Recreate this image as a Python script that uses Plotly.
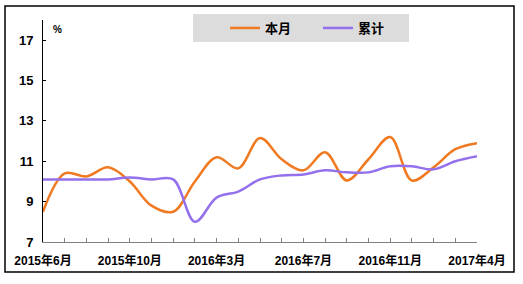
import plotly.graph_objects as go

months = ["2015年6月", "2015年7月", "2015年8月", "2015年9月", "2015年10月", "2015年11月",
          "2015年12月", "2016年2月", "2016年3月", "2016年4月", "2016年5月", "2016年6月",
          "2016年7月", "2016年8月", "2016年9月", "2016年10月", "2016年11月", "2016年12月",
          "2017年2月", "2017年3月", "2017年4月"]
shown_labels = ["2015年6月", "2015年10月", "2016年3月", "2016年7月", "2016年11月", "2017年4月"]
monthly = [8.5, 10.4, 10.25, 10.7, 10.0, 8.8, 8.5, 10.0, 11.2, 10.65, 12.15, 11.1,
           10.55, 11.45, 10.05, 11.1, 12.2, 10.05, 10.7, 11.6, 11.9]
cumulative = [10.1, 10.1, 10.1, 10.1, 10.2, 10.1, 10.1, 8.0, 9.2, 9.5, 10.1, 10.3,
              10.35, 10.55, 10.45, 10.45, 10.75, 10.75, 10.6, 11.0, 11.25]
y_ticks = [7, 9, 11, 13, 15, 17]

ticktext = [m if m in shown_labels else "" for m in months]

fig = go.Figure()
fig.add_trace(go.Scatter(x=months, y=monthly, name="本月", mode="lines",
                         line=dict(color="#F07A22", width=2.5, shape="spline", smoothing=1.0)))
fig.add_trace(go.Scatter(x=months, y=cumulative, name="累计", mode="lines",
                         line=dict(color="#9370EC", width=2.5, shape="spline", smoothing=1.0)))

W, H = 523, 284
L, R, T, B = 43, 477, 20, 242
pw, ph = R - L, B - T

def px(x):
    return (x - L) / pw

def py(y):
    return (B - y) / ph

fig.update_layout(
    width=W, height=H,
    margin=dict(l=L, r=W - R, t=T, b=H - B),
    paper_bgcolor="white", plot_bgcolor="white",
    font=dict(family="Arial, Liberation Sans, Noto Sans CJK SC", color="black"),
    showlegend=True,
    legend=dict(orientation="h", x=px(225), y=py(28), xanchor="left", yanchor="middle",
                bgcolor="rgba(0,0,0,0)", font=dict(size=13, weight="bold"),
                entrywidth=48, entrywidthmode="pixels", itemwidth=30,
                tracegroupgap=0),
    xaxis=dict(type="category", range=[0, len(months) - 1], tickmode="array",
               tickvals=months, ticktext=ticktext, ticks="inside", ticklen=4,
               tickcolor="#808080", showline=True, linecolor="#808080", linewidth=1,
               showgrid=False, zeroline=False, ticklabelstandoff=8,
               tickfont=dict(size=12, weight="bold"), tickangle=0),
    yaxis=dict(range=[7, 18], tickmode="array", tickvals=y_ticks,
               ticks="inside", ticklen=3, tickcolor="black",
               showline=True, linecolor="black", linewidth=1,
               showgrid=False, zeroline=False, ticklabelstandoff=6,
               tickfont=dict(size=13, weight="bold")),
    shapes=[
        dict(type="rect", xref="paper", yref="paper",
             x0=px(5), x1=px(514), y0=py(272), y1=py(6),
             line=dict(color="black", width=1.5), fillcolor="rgba(0,0,0,0)", layer="below"),
        dict(type="rect", xref="paper", yref="paper",
             x0=px(193), x1=px(409), y0=py(42), y1=py(14),
             line=dict(width=0), fillcolor="#DCDCDC", layer="below"),
    ],
    annotations=[
        dict(text="%", xref="paper", yref="paper", x=px(51), y=py(22),
             showarrow=False, font=dict(size=10, weight="bold")),
    ],
)

fig.write_html("out.html")
